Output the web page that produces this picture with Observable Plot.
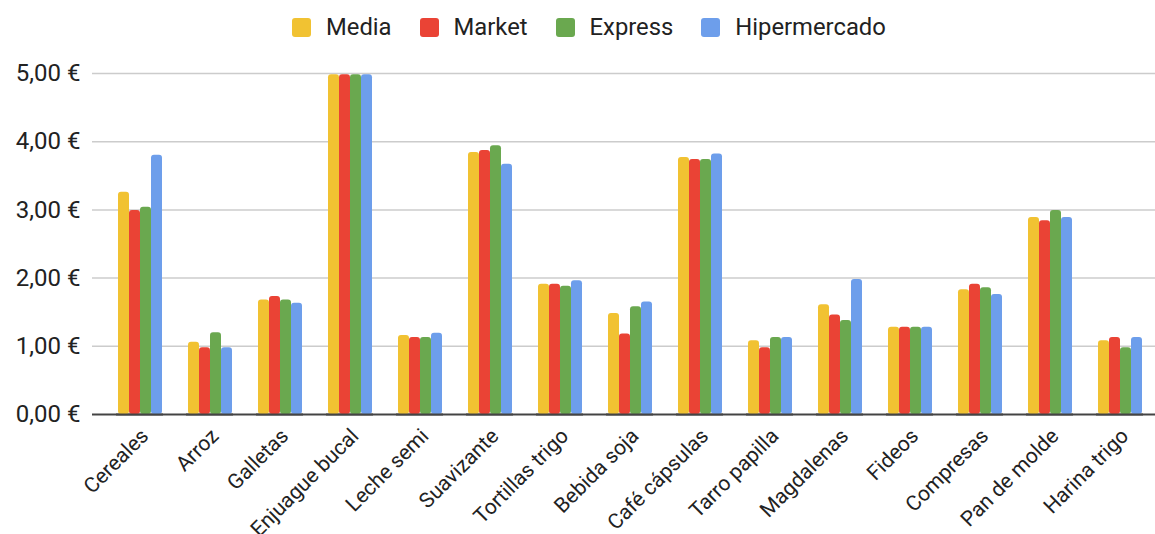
<!DOCTYPE html>
<html>
<head>
<meta charset="utf-8">
<script src="https://cdn.jsdelivr.net/npm/d3@7"></script>
<script src="https://cdn.jsdelivr.net/npm/@observablehq/plot@0.6"></script>
<style>
  html, body { margin: 0; padding: 0; background: #fff; }
  #wrap { position: relative; width: 1155px; height: 534px; overflow: hidden; font-family: Roboto, sans-serif; }
  #wrap svg { position: absolute; left: 0; top: 0; }
  #legend { position: absolute; left: 292px; top: 13px; display: flex; align-items: center; font-size: 23.8px; line-height: 28px; color: #222; z-index: 5; white-space: nowrap; }
  #legend .item { display: flex; align-items: center; margin-right: 28px; }
  #legend .sw { width: 19px; height: 19px; border-radius: 3px; margin-right: 15px; }
</style>
</head>
<body>
<div id="wrap">
  <div id="legend"></div>
</div>
<script>
const categories = ["Cereales", "Arroz", "Galletas", "Enjuague bucal", "Leche semi", "Suavizante", "Tortillas trigo", "Bebida soja", "Café cápsulas", "Tarro papilla", "Magdalenas", "Fideos", "Compresas", "Pan de molde", "Harina trigo"];
const series = ["Media", "Market", "Express", "Hipermercado"];
const media =        [3.26, 1.06, 1.68, 4.98, 1.16, 3.84, 1.91, 1.48, 3.77, 1.08, 1.61, 1.28, 1.83, 2.89, 1.08];
const market =       [2.99, 0.98, 1.73, 4.98, 1.13, 3.87, 1.91, 1.18, 3.74, 0.98, 1.46, 1.28, 1.91, 2.84, 1.13];
const express =      [3.04, 1.20, 1.68, 4.98, 1.13, 3.94, 1.88, 1.58, 3.74, 1.13, 1.38, 1.28, 1.86, 2.99, 0.98];
const hipermercado = [3.80, 0.98, 1.63, 4.98, 1.19, 3.67, 1.96, 1.65, 3.82, 1.13, 1.98, 1.28, 1.76, 2.89, 1.13];
const yTicks = [0, 1, 2, 3, 4, 5];
const colors = ["#f1c232", "#ea4335", "#6aa84f", "#6d9eeb"];

const valuesBySeries = [media, market, express, hipermercado];
const data = [];
categories.forEach((c, i) => {
  series.forEach((s, k) => data.push({category: c, series: s, value: valuesBySeries[k][i]}));
});

const fmt = d => d.toFixed(2).replace(".", ",") + " €";
const W = 1155, H = 534;
const common = {
  width: W, height: H,
  marginLeft: 92, marginRight: 0, marginTop: 73, marginBottom: 120,
  style: {fontFamily: "Roboto, sans-serif", fontSize: "24px", color: "#222", background: "transparent", overflow: "visible"}
};

// Layer 1: gridlines, y axis, full baseline
const back = Plot.plot({
  ...common,
  y: {domain: [0, 5]},
  marks: [
    Plot.ruleY(yTicks.filter(d => d > 0), {stroke: "#cccccc", strokeWidth: 1.5}),
    Plot.axisY({ticks: yTicks, tickSize: 0, tickPadding: 12, tickFormat: fmt, label: null, fontSize: 24}),
    Plot.ruleY([0], {stroke: "#444", strokeWidth: 2})
  ]
});

// Layer 2: grouped bars via fx facets
const front = Plot.plot({
  ...common,
  y: {domain: [0, 5], axis: null},
  fx: {domain: categories, paddingInner: 0.3224, paddingOuter: 0.2432, align: 0.674, label: null},
  x: {domain: series, padding: 0, axis: null},
  color: {domain: series, range: colors},
  marks: [
    Plot.barY(data, {fx: "category", x: "series", y: "value", fill: "series", rx: 3}),
    Plot.ruleY([0], {stroke: "#444", strokeWidth: 2}),
    Plot.axisFx({anchor: "bottom", tickSize: 0, tickRotate: -45, tickPadding: 12, dx: 5, dy: 6, label: null, fontSize: 21})
  ]
});

const wrap = document.getElementById("wrap");
wrap.appendChild(back);
wrap.appendChild(front);

const legend = document.getElementById("legend");
series.forEach((s, k) => {
  const item = document.createElement("div");
  item.className = "item";
  const sw = document.createElement("span");
  sw.className = "sw";
  sw.style.background = colors[k];
  const t = document.createElement("span");
  t.textContent = s;
  item.appendChild(sw);
  item.appendChild(t);
  legend.appendChild(item);
});
</script>
</body>
</html>
